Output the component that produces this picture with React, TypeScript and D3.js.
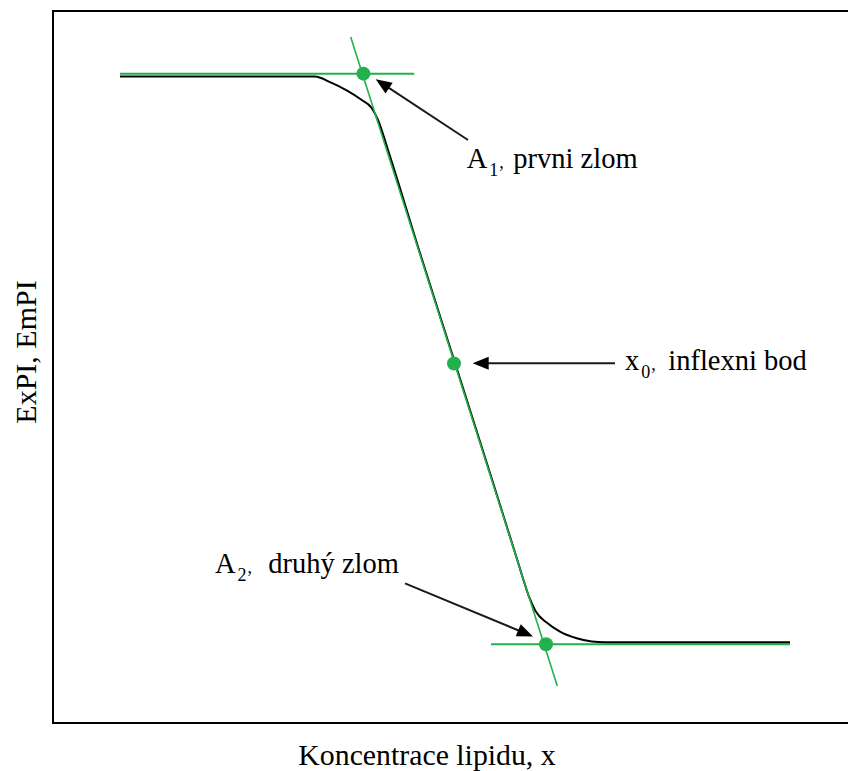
import React from 'react';
import * as d3 from 'd3';

const W = 848;
const H = 771;

// Black measured curve (ExPI/EmPI vs. lipid concentration), arbitrary units
const curveX = [0.8375, 3.275, 3.4625, 3.671, 3.859, 3.984, 4.0625, 4.1875, 4.575, 5.025, 5.45, 5.804, 5.881, 5.956, 6.031, 6.171, 6.3375, 6.546, 6.734, 6.9, 9.2125];
const curveY = [9.08, 9.08, 9.0, 8.885, 8.75, 8.638, 8.469, 8.048, 6.643, 5.056, 3.553, 2.289, 2.008, 1.756, 1.573, 1.41, 1.282, 1.19, 1.145, 1.135, 1.135];

// Green construction lines
const plateauStartX = [0.8375, 5.475];
const plateauEndX = [4.516, 9.2125];
const plateauY = [9.12, 1.105];
const tangentX = [3.721, 6.304];
const tangentY = [9.635, 0.52];

// Characteristic points
const pointNames = ['A1', 'x0', 'A2'];
const pointX = [3.88, 5.0125, 6.1625];
const pointY = [9.12, 5.05, 1.105];

// Annotations
const labelMain = ['A', 'x', 'A'];
const labelSub = ['1', '0', '2'];
const labelRest = ['prvni zlom', 'inflexni bod', 'druhý zlom'];
const labelX = [5.171, 7.15, 2.025];
const labelRestX = [5.754, 7.691, 2.692];
const labelY = [7.791, 4.958, 2.103];
const arrowFromX = [5.1875, 7.025, 4.4];
const arrowFromY = [8.188, 5.052, 1.962];
const arrowToX = [4.034, 5.246, 6.0];
const arrowToY = [9.041, 5.052, 1.215];

const xTitle = 'Koncentrace lipidu, x';
const yTitle = 'ExPI, EmPI';

const GREEN = '#22b14c';
const FONT = 'Liberation Serif';

export default function App() {
  const frame = { left: 53, top: 11, right: 860, bottom: 723 };
  const x = d3.scaleLinear().domain([0, 10]).range([frame.left, frame.left + 800]);
  const y = d3.scaleLinear().domain([0, 10]).range([frame.bottom, frame.top]);

  const pts: [number, number][] = curveX.map((v, i) => [v, curveY[i]]);
  const line = d3
    .line<[number, number]>()
    .x((d) => x(d[0]))
    .y((d) => y(d[1]))
    .curve(d3.curveMonotoneX);

  const arrows = arrowFromX.map((_, i) => {
    const x1 = x(arrowFromX[i]);
    const y1 = y(arrowFromY[i]);
    const x2 = x(arrowToX[i]);
    const y2 = y(arrowToY[i]);
    const ang = Math.atan2(y2 - y1, x2 - x1);
    const L = 16;
    const Wd = 6.5;
    const bx = x2 - L * Math.cos(ang);
    const by = y2 - L * Math.sin(ang);
    const px = -Math.sin(ang);
    const py = Math.cos(ang);
    const head = `M${x2},${y2}L${bx + px * Wd},${by + py * Wd}L${bx - px * Wd},${by - py * Wd}Z`;
    const ex = x2 - (L - 3) * Math.cos(ang);
    const ey = y2 - (L - 3) * Math.sin(ang);
    return { x1, y1, ex, ey, head };
  });

  return (
    <svg
      width={W}
      height={H}
      style={{ position: 'absolute', left: 0, top: 0, background: '#fff' }}
    >
      <rect x={0} y={0} width={W} height={H} fill="#fff" />
      <rect
        x={frame.left}
        y={frame.top}
        width={frame.right - frame.left}
        height={frame.bottom - frame.top}
        fill="none"
        stroke="#000"
        strokeWidth={2}
      />

      {/* plateau lines */}
      {plateauY.map((v, i) => (
        <line
          key={'pl' + i}
          x1={x(plateauStartX[i])}
          x2={x(plateauEndX[i])}
          y1={y(v)}
          y2={y(v)}
          stroke={GREEN}
          strokeWidth={2}
        />
      ))}

      {/* measured curve */}
      <path d={line(pts) || ''} fill="none" stroke="#000" strokeWidth={2} />

      {/* tangent */}
      <line
        x1={x(tangentX[0])}
        y1={y(tangentY[0])}
        x2={x(tangentX[1])}
        y2={y(tangentY[1])}
        stroke={GREEN}
        strokeWidth={1.6}
      />

      {pointNames.map((n, i) => (
        <circle key={n} cx={x(pointX[i])} cy={y(pointY[i])} r={7} fill={GREEN} />
      ))}

      {arrows.map((a, i) => (
        <g key={'ar' + i}>
          <line x1={a.x1} y1={a.y1} x2={a.ex} y2={a.ey} stroke="#1a1a1a" strokeWidth={2} />
          <path d={a.head} fill="#000" />
        </g>
      ))}

      {labelMain.map((m, i) => (
        <g key={'lb' + i} fill="#000" fontFamily={FONT}>
          <text x={x(labelX[i])} y={y(labelY[i])} fontSize={28.5} fontFamily={FONT}>
            {m}
            <tspan fontSize={18} dx={2} dy={8}>
              {labelSub[i]}
            </tspan>
            <tspan fontSize={18} dx={1} dy={-8}>
              ,
            </tspan>
          </text>
          <text x={x(labelRestX[i])} y={y(labelY[i])} fontSize={28.5} fontFamily={FONT}>
            {labelRest[i]}
          </text>
        </g>
      ))}

      <text x={427} y={765} fontSize={29.8} textAnchor="middle" fill="#000" fontFamily={FONT}>
        {xTitle}
      </text>
      <text
        transform={`translate(36,352) rotate(-90)`}
        fontSize={30}
        textAnchor="middle"
        fill="#000"
        fontFamily={FONT}
      >
        {yTitle}
      </text>
    </svg>
  );
}
